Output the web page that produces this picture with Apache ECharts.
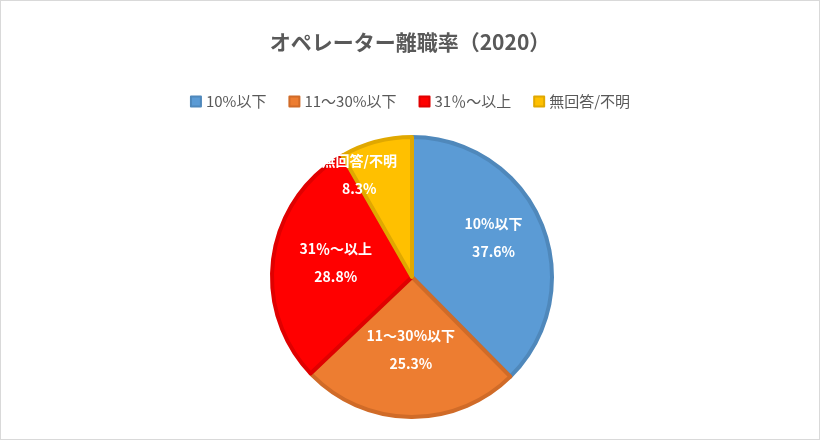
<!DOCTYPE html>
<html lang="ja">
<head>
<meta charset="UTF-8" />
<title>オペレーター離職率（2020）</title>
<script src="https://cdn.jsdelivr.net/npm/echarts@6/dist/echarts.min.js"></script>
<style>
html, body { margin: 0; padding: 0; background: #fff; }
#main { width: 818px; height: 438px; border: 1px solid #d9d9d9; }
</style>
</head>
<body>
<div id="main"></div>
<script>
// データ
var categories = ['10%以下', '11～30%以下', '31％～以上', '無回答/不明'];
var values = [37.6, 25.3, 28.8, 8.3];
var colors = ['#5B9BD5', '#ED7D31', '#FF0000', '#FFC000'];
var borderColors = ['#4F88BB', '#D06B28', '#E00000', '#E0A800'];
// ラベルの微調整（参考図に合わせる）
var labelOffsets = [[14, -12], [0, 0], [-4, -4], [-34, -32]];

var myChart = echarts.init(document.getElementById('main'));
var font = '"Noto Sans CJK JP", "Noto Sans", sans-serif';

myChart.setOption({
    title: {
        text: 'オペレーター離職率（2020）',
        left: 'center',
        top: 26,
        textStyle: { color: '#595959', fontSize: 21, fontWeight: 'bold', fontFamily: font }
    },
    legend: {
        top: 88,
        left: 'center',
        itemWidth: 10,
        itemHeight: 10,
        itemGap: 22,
        icon: 'rect',
        textStyle: { color: '#595959', fontSize: 15, fontFamily: font },
        data: categories
    },
    series: [{
        type: 'pie',
        center: [411, 276],
        radius: [0, 140],
        startAngle: 90,
        clockwise: true,
        label: {
            position: 'inside',
            formatter: function (p) { return p.name + '\n' + p.value.toFixed(1) + '%'; },
            color: '#fff',
            fontSize: 14,
            fontWeight: 'bold',
            lineHeight: 28,
            fontFamily: font
        },
        labelLine: { show: false },
        emphasis: { disabled: true },
        data: categories.map(function (c, i) {
            return {
                name: c,
                value: values[i],
                label: { offset: labelOffsets[i] },
                itemStyle: { color: colors[i], borderColor: borderColors[i], borderWidth: 4 }
            };
        })
    }]
});
</script>
</body>
</html>
